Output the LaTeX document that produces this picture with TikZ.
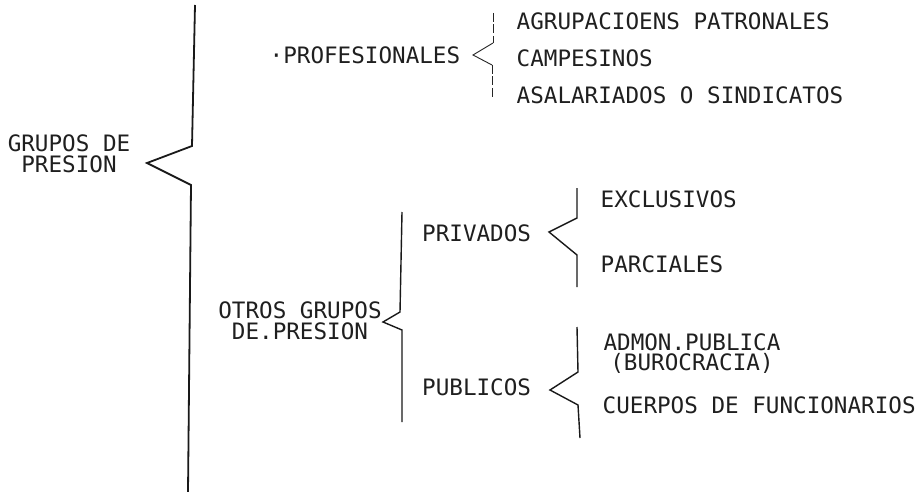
\documentclass[tikz,border=0pt]{standalone}
\usepackage{fontspec}
\newfontfamily\dmono{DejaVu Sans Mono}
\begin{document}
\begin{tikzpicture}[x=1pt,y=-1pt,
  lbl/.style={font=\dmono\fontsize{22.6}{19}\selectfont, inner sep=0pt, anchor=base west, text=black!88},
  blk/.style={font=\dmono\fontsize{22.6}{#1}\selectfont, inner sep=0pt, anchor=north, align=center, text=black!88},
  mainbrace/.style={line width=1.8pt, line join=miter, black!90},
  brace/.style={line width=1.4pt, line join=miter, black!90},
  thinbrace/.style={line width=0.9pt, black!85},
  thinvert/.style={line width=0.9pt, black!85, dash pattern=on 9pt off 2.5pt},
]
\useasboundingbox (0,0) rectangle (920,492);
\fill[white] (0,0) rectangle (920,492);

% labels
\node[blk=20.5] (gp) at (69,135) {GRUPOS DE\\PRESION};
\node[lbl] (prof) at (269.5,64) {·PROFESIONALES};
\node[lbl] (agr) at (516.5,30) {AGRUPACIOENS PATRONALES};
\node[lbl] (camp) at (516.5,67) {CAMPESINOS};
\node[lbl] (asal) at (516.5,103) {ASALARIADOS O SINDICATOS};
\node[blk=21] (otros) at (300,302) {OTROS GRUPOS\\DE.PRESION};
\node[lbl] (priv) at (422,241) {PRIVADOS};
\node[lbl] (excl) at (600.5,207) {EXCLUSIVOS};
\node[lbl] (parc) at (600.5,272) {PARCIALES};
\node[lbl] (pub) at (422,395) {PUBLICOS};
\node[blk=20.5] (admon) at (692,333.5) {ADMON.PUBLICA\\(BUROCRACIA)};
\node[lbl] (cuer) at (602.5,413) {CUERPOS DE FUNCIONARIOS};

% main brace
\coordinate (m1) at (195,5);
\coordinate (m2) at (192,146);
\coordinate (m3) at (147,163);
\coordinate (m4) at (191,185);
\coordinate (m5) at (188,492);
\draw[mainbrace] (m1) -- (m2) -- (m3) -- (m4) -- (m5);

% profesionales brace
\coordinate (p1) at (493,13);
\coordinate (p2) at (493,43);
\coordinate (p3) at (473,55);
\coordinate (p4) at (492,65);
\coordinate (p5) at (492,97);
\draw[thinvert] (p1) -- (p2);
\draw[thinbrace] (p2) -- (p3) -- (p4);
\draw[thinvert] (p4) -- (p5);

% otros brace
\coordinate (o1) at (402,212);
\coordinate (o2) at (400,312);
\coordinate (o3) at (383,322);
\coordinate (o4) at (402,330);
\coordinate (o5) at (402,422);
\draw[brace] (o1) -- (o2) -- (o3) -- (o4) -- (o5);

% privados brace
\coordinate (r1) at (577,188);
\coordinate (r2) at (577,218);
\coordinate (r3) at (549,232);
\coordinate (r4) at (577,255);
\coordinate (r5) at (577,287);
\draw[brace] (r1) -- (r2) -- (r3) -- (r4) -- (r5);

% publicos brace
\coordinate (u1) at (577,327);
\coordinate (u2) at (578,372);
\coordinate (u3) at (550,390);
\coordinate (u4) at (578,405);
\coordinate (u5) at (580,438);
\draw[brace] (u1) -- (u2) -- (u3) -- (u4) -- (u5);
\end{tikzpicture}
\end{document}
